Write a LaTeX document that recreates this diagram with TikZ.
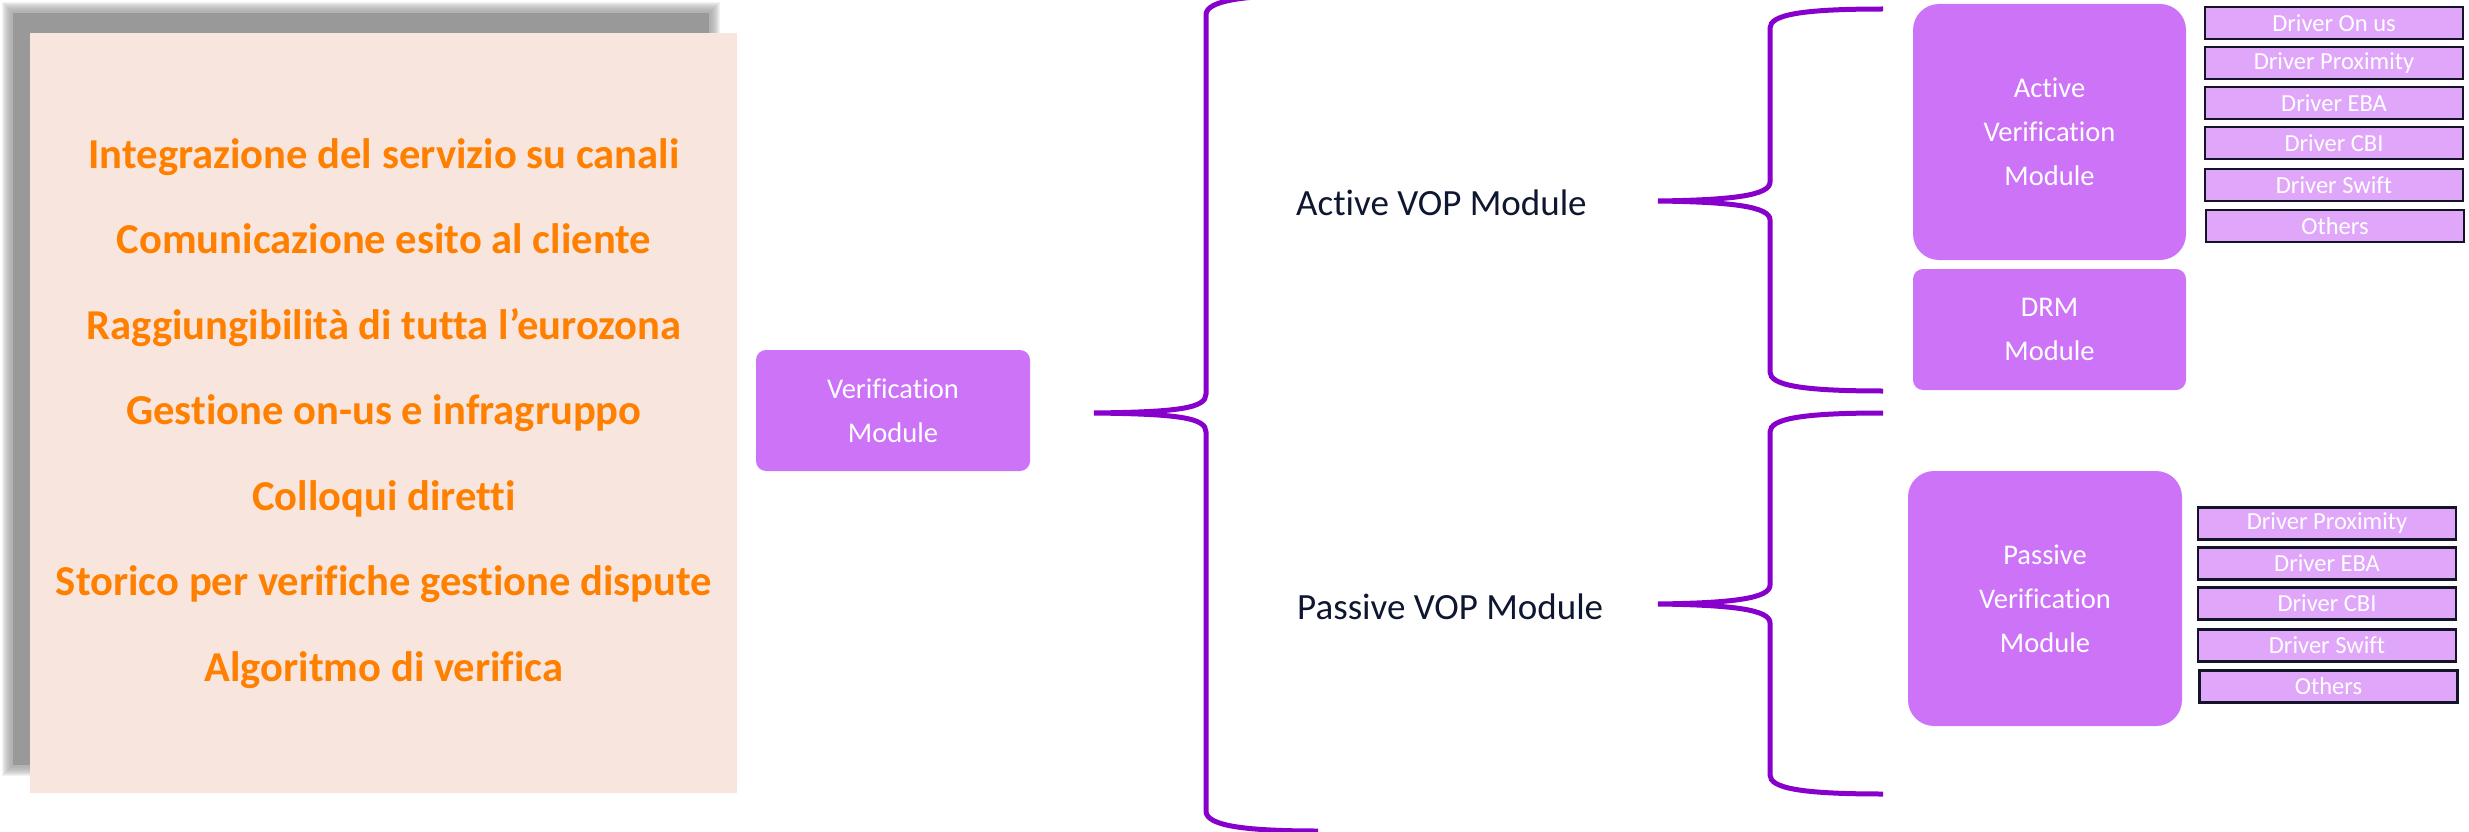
\documentclass[tikz,border=0pt]{standalone}
\usepackage{fontspec}
\setmainfont[Ligatures={NoCommon}]{Carlito}
\definecolor{bracec}{RGB}{136,0,204}
\definecolor{boxp}{RGB}{204,115,248}
\definecolor{drvp}{RGB}{224,166,250}
\definecolor{beige}{RGB}{248,230,222}
\definecolor{orng}{RGB}{255,127,0}
\definecolor{navy}{RGB}{14,22,48}
\definecolor{drvline}{RGB}{20,20,40}
\definecolor{shad}{RGB}{153,153,153}
\begin{document}
\begin{tikzpicture}[x=1pt,y=-1pt,
  modbox/.style={fill=boxp, draw=none, text=white, align=center, inner sep=0pt,
    font=\fontsize{28.5}{44}\selectfont},
  drvbox/.style={draw=drvline, line width=2.5pt, fill=drvp, text=white, inner sep=0pt,
    minimum width=258pt, minimum height=32pt, font=\fontsize{24.5}{26}\selectfont},
  bracepath/.style={draw=bracec, line width=5pt},
  voplabel/.style={text=navy, inner sep=0pt, anchor=west, font=\fontsize{37}{40}\selectfont}]
\useasboundingbox (0,0) rectangle (2469,832);
\clip (0,0) rectangle (2469,832);
% blurred shadow
\foreach \i in {0,...,9}{
  \fill[shad, opacity=0.13] (\i+2,\i+2) rectangle (720-\i,776-\i);
}
\fill[shad] (13,13) rectangle (709,765);
% beige panel
\node[fill=beige, minimum width=707pt, minimum height=760pt, inner sep=0pt] (panel) at (383.5,413) {};
\node[text=orng, align=center, inner sep=0pt, font=\fontsize{42.6}{85.5}\bfseries\selectfont] (list) at (384,413.5)
  {Integrazione del servizio su canali\\
   Comunicazione esito al cliente\\
   Raggiungibilità di tutta l’eurozona\\
   Gestione on-us e infragruppo\\
   Colloqui diretti\\
   Storico per verifiche gestione dispute\\
   Algoritmo di verifica};
% modules
\node[modbox, rounded corners=10pt, minimum width=274pt, minimum height=121pt] (vm) at (893,410.5) {Verification\\Module};
\node[modbox, rounded corners=26pt, minimum width=273pt, minimum height=256pt] (avm) at (2049.5,132) {Active\\Verification\\Module};
\node[modbox, rounded corners=10pt, minimum width=273pt, minimum height=121pt] (drm) at (2049.5,329.5) {DRM\\Module};
\node[modbox, rounded corners=26pt, minimum width=274pt, minimum height=255pt] (pvm) at (2045,598.5) {Passive\\Verification\\Module};
% labels
\node[voplabel] (avop) at (1296,203) {Active VOP Module};
\node[voplabel] (pvop) at (1297,607) {Passive VOP Module};
% drivers (active)
\node[drvbox] (a1) at (2334,23) {Driver On us};
\node[drvbox] (a2) at (2334,63) {Driver Proximity};
\node[drvbox] (a3) at (2334,103) {Driver EBA};
\node[drvbox] (a4) at (2334,143) {Driver CBI};
\node[drvbox] (a5) at (2334,185) {Driver Swift};
\node[drvbox] (a6) at (2335,226) {Others};
% drivers (passive)
\node[drvbox] (p1) at (2327,523.5) {Driver Proximity};
\node[drvbox] (p2) at (2327,563.5) {Driver EBA};
\node[drvbox] (p3) at (2327,603.5) {Driver CBI};
\node[drvbox] (p4) at (2327,645.5) {Driver Swift};
\node[drvbox] (p5) at (2328.5,686.5) {Others};
% braces
\coordinate (bigtip) at (1094,413);
\coordinate (bigtop) at (1318,-5);
\coordinate (bigbot) at (1318,831);
\path[bracepath] (bigtop) .. controls (1240,-5) and (1206,1) .. (1206,15) -- (1206,394)
  .. controls (1206,408) and (1180,412) .. (bigtip)
  .. controls (1180,414) and (1206,418) .. (1206,432) -- (1206,811)
  .. controls (1206,825) and (1240,831) .. (bigbot);
\coordinate (uptip) at (1658,201);
\coordinate (uptop) at (1883,9);
\coordinate (upbot) at (1883,391);
\path[bracepath] (uptop) .. controls (1800,9) and (1770,15) .. (1770,28) -- (1770,182)
  .. controls (1770,195) and (1735,200) .. (uptip)
  .. controls (1735,202) and (1770,207) .. (1770,220) -- (1770,372)
  .. controls (1770,385) and (1800,391) .. (upbot);
\coordinate (lotip) at (1658,604);
\coordinate (lotop) at (1883,413);
\coordinate (lobot) at (1883,794);
\path[bracepath] (lotop) .. controls (1800,413) and (1770,419) .. (1770,432) -- (1770,585)
  .. controls (1770,598) and (1735,603) .. (lotip)
  .. controls (1735,605) and (1770,610) .. (1770,623) -- (1770,775)
  .. controls (1770,788) and (1800,794) .. (lobot);
\end{tikzpicture}
\end{document}
